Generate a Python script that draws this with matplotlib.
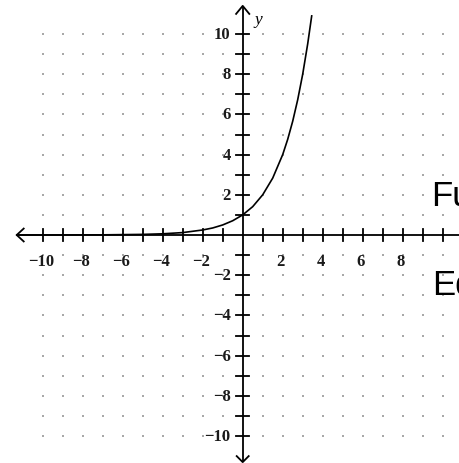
import matplotlib
matplotlib.use("Agg")
import matplotlib.pyplot as plt
import numpy as np

# Curve points y = 2^x
curve_x = [-11.3, -9, -7, -5, -4, -3, -2, -1.5, -1, -0.5, 0, 0.5, 1, 1.5,
           2, 2.25, 2.5, 2.75, 3, 3.25, 3.45]
curve_y = [0.0004, 0.002, 0.008, 0.03, 0.06, 0.12, 0.25, 0.35, 0.5, 0.71,
           1.0, 1.41, 2.0, 2.83, 4.0, 4.76, 5.66, 6.73, 8.0, 9.51, 10.9]

x_ticks = list(range(-10, 11))
y_ticks = list(range(-10, 11))
x_labels = [-10, -8, -6, -4, -2, 2, 4, 6, 8]
y_labels = [-10, -8, -6, -4, -2, 2, 4, 6, 8, 10]
side_texts = ["Function", "Equation"]

W, H = 460, 464
fig = plt.figure(figsize=(W / 100, H / 100), dpi=100)
ax = fig.add_axes([0, 0, 1, 1])
ax.set_xlim(-242.7 / 20, (W - 242.7) / 20)
ax.set_ylim(-(H - 236) / 20.1, 236 / 20.1)
ax.axis("off")

# dotted grid
gx, gy = np.meshgrid(x_ticks, y_ticks)
mask = (gx != 0) & (gy != 0)
ax.scatter(gx[mask], gy[mask], s=1.6, marker="s", color="#a8a8a8",
           linewidths=0, zorder=1)

lw_axis = 1.3
# axes lines
ax.plot([-11.3, 12], [0, 0], color="black", lw=lw_axis, zorder=3,
        solid_capstyle="butt")
ax.plot([0, 0], [-11.3, 11.4], color="black", lw=lw_axis, zorder=3,
        solid_capstyle="butt")

# arrowheads
ax.plot([-10.95, -11.3, -10.95], [0.32, 0, -0.32], color="black", lw=lw_axis,
        zorder=3)
ax.plot([-0.33, 0, 0.33], [11.0, 11.4, 11.0], color="black", lw=lw_axis,
        zorder=3)
ax.plot([-0.3, 0, 0.3], [-11.0, -11.3, -11.0], color="black", lw=lw_axis,
        zorder=3)

# tick marks
for t in x_ticks:
    if t != 0:
        ax.plot([t, t], [-0.28, 0.28], color="black", lw=lw_axis, zorder=3)
for t in y_ticks:
    if t != 0:
        ax.plot([-0.32, 0.32], [t, t], color="black", lw=lw_axis, zorder=3)

label_font = dict(family="Liberation Serif", fontsize=12, weight="bold",
                  color="#1a1a1a")
for t in x_labels:
    ax.text(t - 0.1, -1.3, f"{t}".replace("-", "\u2212"), ha="center",
            va="center", **label_font)
for t in y_labels:
    ax.text(-0.6, t, f"{t}".replace("-", "\u2212"), ha="right",
            va="center", **label_font)

ax.text(0.78, 10.75, "y", ha="center", va="center", style="italic",
        family="Liberation Serif", fontsize=12.5)

# exponential curve
ax.plot(curve_x, curve_y, color="black", lw=1.2, zorder=4)

# side captions
ax.text(9.4, 1.49, side_texts[0], ha="left", va="baseline",
        family="Liberation Sans", fontsize=25, clip_on=False)
ax.text(9.45, -2.94, side_texts[1], ha="left", va="baseline",
        family="Liberation Sans", fontsize=25, clip_on=False)

fig.savefig("out.png", dpi=100)
